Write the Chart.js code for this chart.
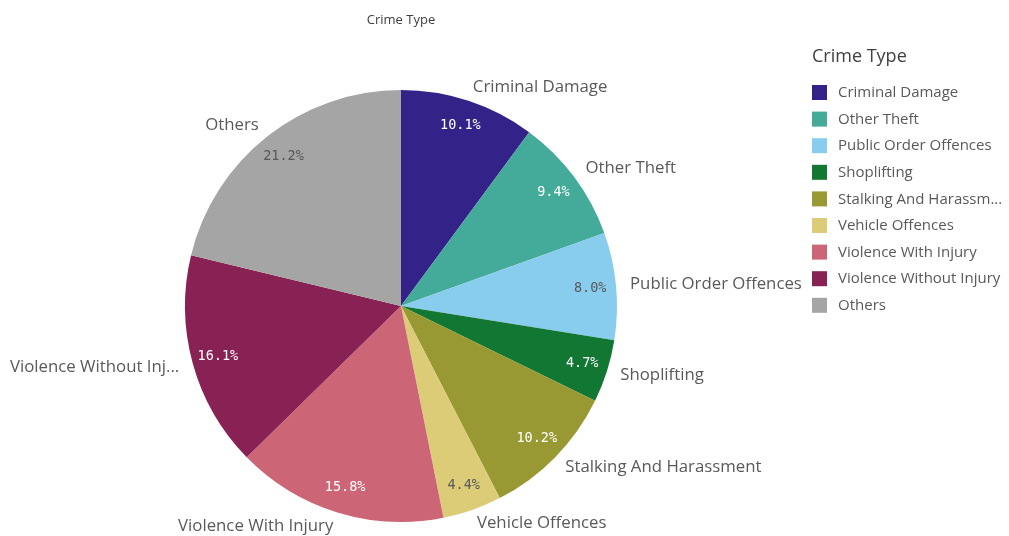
<!DOCTYPE html>
<html>
<head>
<meta charset="utf-8">
<script src="https://cdn.jsdelivr.net/npm/chart.js@4.4.1/dist/chart.umd.min.js"></script>
<style>
  html, body { margin: 0; padding: 0; background: #fff; }
  #wrap { position: relative; width: 1009px; height: 536px; }
</style>
</head>
<body>
<div id="wrap"><canvas id="myChart" width="1009" height="536"></canvas></div>
<script>
var categories = ['Criminal Damage', 'Other Theft', 'Public Order Offences', 'Shoplifting',
  'Stalking And Harassment', 'Vehicle Offences', 'Violence With Injury', 'Violence Without Injury', 'Others'];
var shares = [10.1, 9.4, 8.0, 4.7, 10.2, 4.4, 15.8, 16.1, 21.2];
var colors = ['#332288', '#44aa99', '#88ccee', '#117733', '#999933', '#ddcc77', '#cc6677', '#882255', '#a5a5a5'];
var darkText = [false, false, true, false, false, true, false, false, true];

var FONT = '"Open Sans", sans-serif';

function fitText(ctx, text, maxW) {
  if (ctx.measureText(text).width <= maxW) return text;
  var t = text;
  while (t.length > 1 && ctx.measureText(t + '...').width > maxW) t = t.slice(0, -1);
  return t.trimEnd() + '...';
}

// labels around the pie, percentages inside and the legend on the right
var labelPlugin = {
  id: 'labels',
  afterDatasetsDraw: function (chart) {
    var ctx = chart.ctx;
    var arcs = chart.getDatasetMeta(0).data;
    ctx.save();
    arcs.forEach(function (arc, i) {
      var mid = (arc.startAngle + arc.endAngle) / 2;
      var R = arc.outerRadius;
      var cx = arc.x, cy = arc.y;

      // percent inside
      var pr = R - 26;
      ctx.font = '13.5px "DejaVu Sans Mono", monospace';
      ctx.textAlign = 'center';
      ctx.textBaseline = 'middle';
      ctx.fillStyle = darkText[i] ? '#595959' : '#ffffff';
      ctx.fillText(shares[i].toFixed(1) + '%', cx + pr * Math.cos(mid), cy + pr * Math.sin(mid));

      // category outside
      var lr = R + 14;
      var x = cx + lr * Math.cos(mid), y = cy + lr * Math.sin(mid);
      ctx.font = '16.8px ' + FONT;
      ctx.fillStyle = '#595959';
      var right = Math.cos(mid) >= 0;
      ctx.textAlign = right ? 'left' : 'right';
      var maxW = right ? chart.width - 8 - x : x - 8;
      ctx.fillText(fitText(ctx, categories[i], maxW), x, y);
    });

    // title
    ctx.font = '13px ' + FONT;
    ctx.fillStyle = '#404040';
    ctx.textAlign = 'center';
    ctx.fillText('Crime Type', 401, 20);

    // legend
    ctx.textAlign = 'left';
    ctx.font = '18px ' + FONT;
    ctx.fillStyle = '#404040';
    ctx.fillText('Crime Type', 812, 57);
    ctx.font = '15px ' + FONT;
    categories.forEach(function (c, i) {
      var y = 93 + i * 26.6;
      ctx.fillStyle = colors[i];
      ctx.fillRect(812, y - 8, 15, 15);
      ctx.fillStyle = '#595959';
      ctx.fillText(fitText(ctx, c, 169), 838, y);
    });
    ctx.restore();
  }
};

var ctx = document.getElementById('myChart');
var myChart = new Chart(ctx, {
  type: 'pie',
  data: {
    labels: categories,
    datasets: [{
      data: shares,
      backgroundColor: colors,
      borderWidth: 0
    }]
  },
  options: {
    responsive: false,
    animation: false,
    layout: { padding: { left: 185, right: 392, top: 90, bottom: 14 } },
    plugins: {
      legend: { display: false },
      tooltip: { enabled: false }
    }
  },
  plugins: [labelPlugin]
});
</script>
</body>
</html>
